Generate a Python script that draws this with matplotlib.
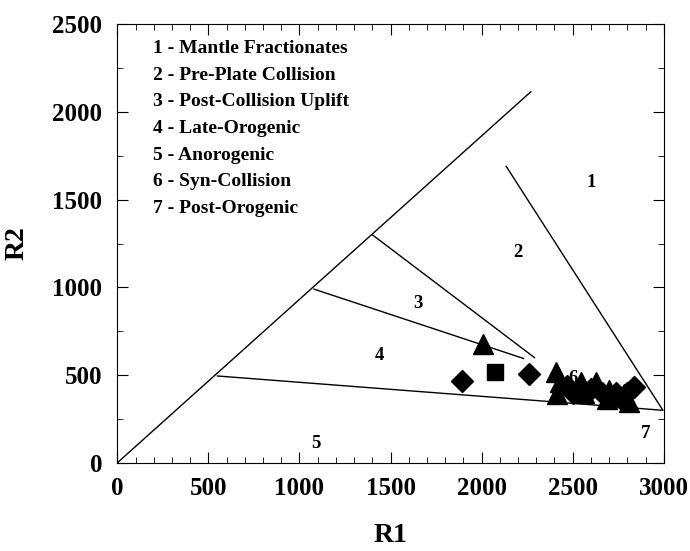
import matplotlib.pyplot as plt
from matplotlib.ticker import MultipleLocator

plt.rcParams['font.family'] = ['Liberation Serif', 'DejaVu Serif']
plt.rcParams['font.weight'] = 'bold'

# field boundaries (R1, R2)
diag_x = [0, 2270]
diag_y = [0, 2115]
line1_x = [2135, 2995]
line1_y = [1690, 300]
line3_x = [1400, 2290]
line3_y = [1300, 600]
line4_x = [1080, 2230]
line4_y = [990, 595]
line5_x = [550, 2990]
line5_y = [495, 300]

# field numbers
field_lbl = ['1', '2', '3', '4', '5', '6', '7']
field_x = [2600, 2200, 1650, 1440, 1090, 2500, 2900]
field_y = [1600, 1200, 910, 610, 110, 480, 170]

legend_lines = ['1 - Mantle Fractionates', '2 - Pre-Plate Collision',
                '3 - Post-Collision Uplift', '4 - Late-Orogenic',
                '5 - Anorogenic', '6 - Syn-Collision', '7 - Post-Orogenic']

# samples
tri_x = [2010, 2409, 2430, 2546, 2628, 2699, 2414, 2560, 2688, 2808, 2780]
tri_y = [675, 516, 460, 459, 459, 414, 391, 400, 363, 346, 390]
dia_x = [1894, 2261, 2470, 2500, 2600, 2660, 2740, 2836, 2800, 2760]
dia_y = [465, 505, 440, 400, 420, 400, 400, 431, 400, 370]
sq_x = [2075]
sq_y = [516]

fig = plt.figure(figsize=(6.9, 5.51), dpi=100)
ax = fig.add_axes([0.170, 0.160, 0.792, 0.796])

for lx, ly in [(diag_x, diag_y), (line1_x, line1_y), (line3_x, line3_y),
               (line4_x, line4_y), (line5_x, line5_y)]:
    ax.plot(lx, ly, color='black', lw=1.0)

for t, x, y in zip(field_lbl, field_x, field_y):
    ax.text(x, y, t, fontsize=13.5, ha='center', va='center', zorder=1)

for i, s in enumerate(legend_lines):
    ax.text(0.066, 0.945 - i * 0.0609, s, transform=ax.transAxes,
            fontsize=14, ha='left', va='center')

ax.plot(tri_x, tri_y, '^', color='black', ms=15, zorder=3)
ax.plot(dia_x, dia_y, 'D', color='black', ms=11, zorder=3)
ax.plot(sq_x, sq_y, 's', color='black', ms=12, zorder=3)

ax.set_xlim(0, 3000)
ax.set_ylim(0, 2500)
ax.xaxis.set_major_locator(MultipleLocator(500))
ax.xaxis.set_minor_locator(MultipleLocator(100))
ax.yaxis.set_major_locator(MultipleLocator(500))
ax.yaxis.set_minor_locator(MultipleLocator(250))
ax.tick_params(which='both', direction='in', top=True, right=True)
ax.tick_params(which='major', length=8, labelsize=18)
ax.tick_params(axis='x', which='major', pad=10)
ax.tick_params(axis='y', which='major', pad=11)
ax.tick_params(which='minor', length=4)
for lab in ax.get_xticklabels() + ax.get_yticklabels():
    lab.set_fontweight('bold')

ax.set_xlabel('R1', fontsize=20, fontweight='bold', labelpad=17)
ax.set_ylabel('R2', fontsize=20, fontweight='bold', labelpad=16)

fig.savefig('out.png', dpi=100)
